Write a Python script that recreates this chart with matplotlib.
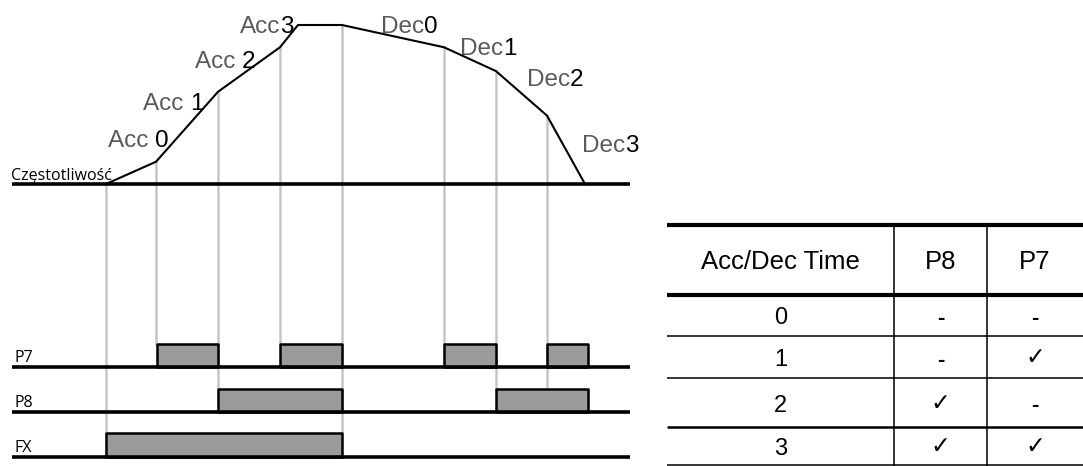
import numpy as np
import matplotlib
matplotlib.use("Agg")
import matplotlib.pyplot as plt

# czas (os x w jednostkach rysunku) i czestotliwosc w % wartosci maksymalnej
czas = [106, 156, 218, 280, 298, 342, 444, 496, 547, 585]
czestotliwosc = [0, 14, 58, 86, 100, 100, 86, 71, 43, 0]

# stany wejsc (poczatek, koniec)
p7_on = [(157, 218), (280, 342), (444, 496), (547, 588)]
p8_on = [(218, 342), (496, 588)]
fx_on = [(106, 342)]

# linie pomocnicze: chwila i sygnal, do ktorego schodzi linia
linie_czas = [106, 156, 218, 280, 342, 444, 496, 547]
linie_do = ['FX', 'P7', 'P8', 'P7', 'FX', 'P7', 'P8', 'P8']

etykiety_txt = ['Acc ', 'Acc ', 'Acc ', 'Acc', 'Dec', 'Dec', 'Dec', 'Dec']
etykiety_nr = ['0', '1', '2', '3', '0', '1', '2', '3']

# tabela
tab_naglowek = ['Acc/Dec Time', 'P8', 'P7']
tab_czas = ['0', '1', '2', '3']
tab_p8 = ['-', '-', '\u2713', '\u2713']
tab_p7 = ['-', '\u2713', '-', '\u2713']

W, H = 1083, 466
fig = plt.figure(figsize=(W / 100, H / 100), dpi=100)
ax = fig.add_axes([0, 0, 1, 1])
ax.set_xlim(0, W)
ax.set_ylim(H, 0)
ax.axis('off')

# os czestotliwosci: 0 na linii 184 px, 100 na 25 px
y0, y1 = 184, 25
ax_f = fig.add_axes([0, 1 - y0 / H, 1, (y0 - y1) / H])
ax_f.set_xlim(0, W)
ax_f.set_ylim(0, 100)
ax_f.axis('off')
ax_f.patch.set_alpha(0)

ax_f.plot(czas, czestotliwosc, color='black', lw=1.5, clip_on=False, zorder=3)

wiersze = {'P7': (367, 344), 'P8': (412, 389), 'FX': (457, 433)}
sygnaly = {'P7': p7_on, 'P8': p8_on, 'FX': fx_on}

# linie pomocnicze
do_pix = ax.transData.inverted()
for t, cel in zip(linie_czas, linie_do):
    f = np.interp(t, czas, czestotliwosc)
    _, ytop = do_pix.transform(ax_f.transData.transform((t, f)))
    ax.plot([t, t], [ytop, wiersze[cel][1]], color='#c6c6c6', lw=1.8, zorder=1)

# linie bazowe
x_start, x_end = 12, 630
ax.plot([x_start, x_end], [y0, y0], color='black', lw=2.6, solid_capstyle='butt', zorder=4)
for nazwa, (baza, gora) in wiersze.items():
    odc = [(s, e - s) for s, e in sygnaly[nazwa]]
    ax.broken_barh(odc, (gora, baza - gora), facecolors='#9b9b9b',
                   edgecolors='black', linewidth=1.8, zorder=2)
    ax.plot([x_start, x_end], [baza, baza], color='black', lw=2.6,
            solid_capstyle='butt', zorder=4)
    ax.text(14, baza - 5, nazwa, fontsize=11.5, family='Open Sans',
            ha='left', va='baseline')

ax.text(11, 180, 'Częstotliwość', fontsize=11.5, family='Open Sans',
        ha='left', va='baseline')

# podpisy Acc / Dec (x poczatku cyfry, linia bazowa)
pozycje = [(155, 147), (190, 110), (242, 68), (280, 33),
           (424, 33), (503, 55), (570, 86), (625, 152)]
for txt, nr, (x, y) in zip(etykiety_txt, etykiety_nr, pozycje):
    ax.text(x, y, txt, fontsize=17.5, family='Liberation Sans', color='#5a5a5a',
            ha='right', va='baseline')
    ax.text(x, y, nr, fontsize=17.5, family='Liberation Sans', color='black',
            ha='left', va='baseline')

# tabela
kol_x = [667, 894, 987, 1083]
wier_y = [225, 295, 336, 378, 427, 465]
grub = [3.0, 3.0, 1.1, 1.1, 1.8, 1.1]
for y, lw in zip(wier_y, grub):
    ax.plot([kol_x[0], kol_x[-1]], [y, y], color='black', lw=lw, solid_capstyle='butt')
for x in kol_x[1:3]:
    ax.plot([x, x], [wier_y[0], H], color='black', lw=1.1)

srodki = [(a + b) / 2 for a, b in zip(kol_x[:-1], kol_x[1:])]
for x, txt in zip(srodki, tab_naglowek):
    ax.text(x, 262, txt, fontsize=18.5, family='Liberation Sans',
            ha='center', va='center')
for i, (c, a, b) in enumerate(zip(tab_czas, tab_p8, tab_p7)):
    yc = (wier_y[i + 1] + wier_y[i + 2]) / 2 + 3
    ax.text(srodki[0], yc, c, fontsize=17, family='Liberation Sans',
            ha='center', va='center')
    for x, v in zip(srodki[1:], (a, b)):
        if v == '-':
            ax.text(x, yc, v, fontsize=16, family='Liberation Sans',
                    weight='bold', ha='center', va='center')
        else:
            ax.text(x, yc - 3, v, fontsize=17, family='DejaVu Sans',
                    ha='center', va='center')

fig.savefig('out.png', dpi=100, facecolor='white')
